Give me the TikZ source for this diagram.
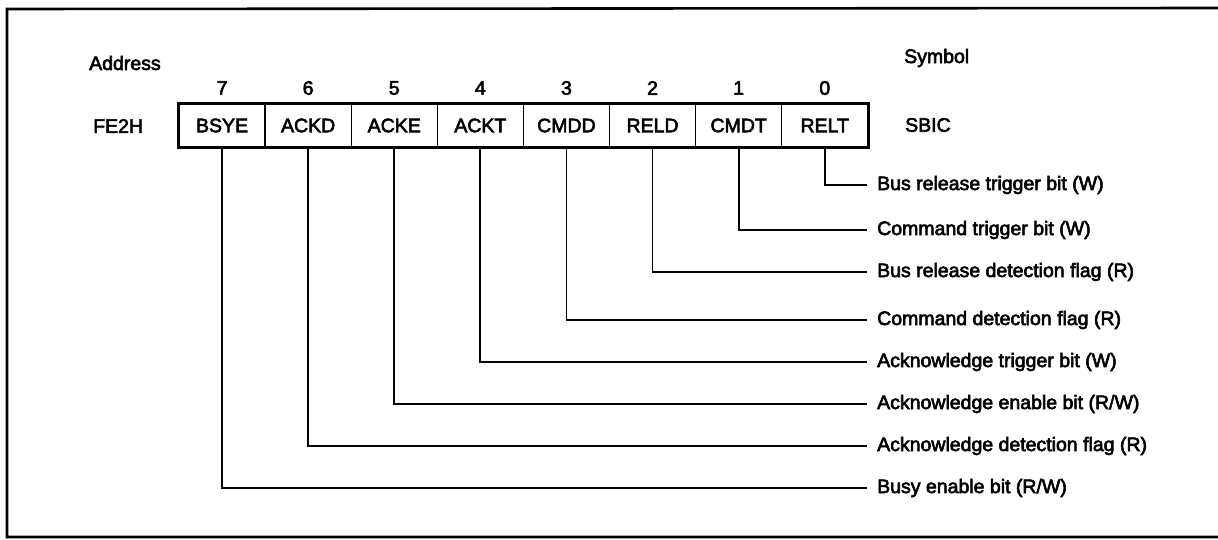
\documentclass[tikz,border=0pt]{standalone}
\usepackage{fontspec}
\setmainfont{Liberation Sans}[BoldFont=Liberation Sans, BoldFeatures={FakeBold=3}]
\begin{document}
\begin{tikzpicture}[x=1pt,y=-1pt,
  txt/.style={font=\fontsize{19.5}{22}\selectfont\bfseries, inner sep=0pt},
  cell/.style={txt, draw, line width=1.4pt, minimum width=86.1pt, minimum height=43pt, anchor=center},
  lab/.style={txt, anchor=west, inner xsep=10pt},
  conn/.style={line width=1.8pt},
  frame/.style={line width=2.6pt}]
\useasboundingbox (0,0) rectangle (1218,540);
% frame (right edge outside the picture)
\draw[frame] (1225,8) -- (7,9) -- (7,537) -- (1225,537);
% header texts
\node[txt, anchor=west] (addr) at (89,63) {Address};
\node[txt, anchor=west] (fe2h) at (93,126) {FE2H};
\node[txt, anchor=west] (sym) at (904,58) {Symbol};
\node[txt, anchor=west] (sbic) at (905,125) {SBIC};
% register cells
\foreach \n [count=\i from 0] in {BSYE,ACKD,ACKE,ACKT,CMDD,RELD,CMDT,RELT}{
  \pgfmathtruncatemacro{\b}{7-\i}
  \node[cell] (c\b) at ({179+86.1*\i+43.05},125.5) {\n};
  \node[txt] (n\b) at ({179+86.1*\i+43.05},88) {\b};
}
\draw[line width=3pt] (c7.north west) rectangle (c0.south east);
% descriptions
\node[lab] (l0) at (867,185) {Bus release trigger bit (W)};
\node[lab] (l1) at (867,230) {Command trigger bit (W)};
\node[lab] (l2) at (867,272) {Bus release detection flag (R)};
\node[lab] (l3) at (867,320) {Command detection flag (R)};
\node[lab] (l4) at (867,362) {Acknowledge trigger bit (W)};
\node[lab] (l5) at (867,404) {Acknowledge enable bit (R/W)};
\node[lab] (l6) at (867,446) {Acknowledge detection flag (R)};
\node[lab] (l7) at (867,488) {Busy enable bit (R/W)};
\foreach \b in {0,...,7}{
  \draw[conn] ([yshift=-1.5pt]c\b.south) |- (l\b.west);
}
\end{tikzpicture}
\end{document}
